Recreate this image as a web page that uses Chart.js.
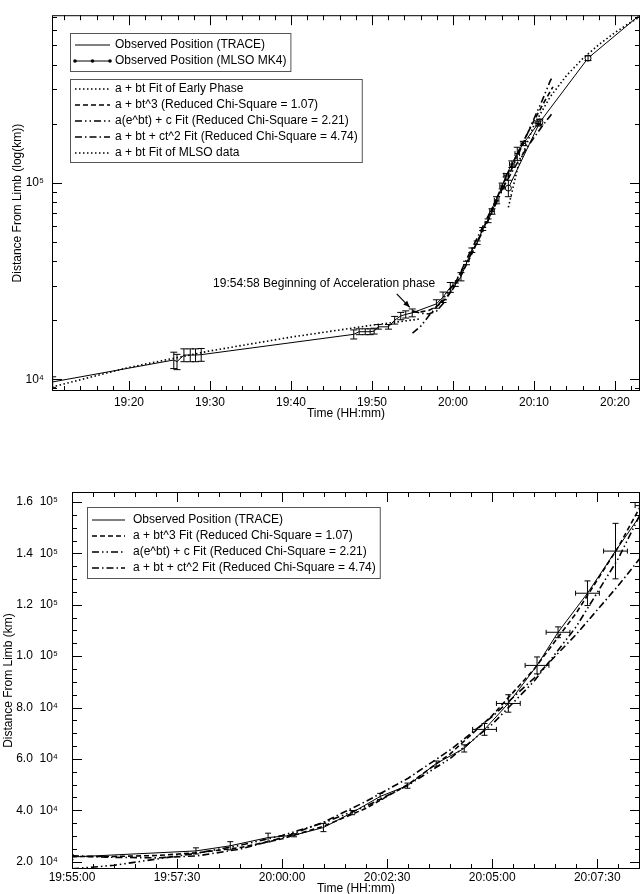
<!DOCTYPE html>
<html>
<head>
<meta charset="utf-8">
<script src="https://cdn.jsdelivr.net/npm/chart.js@4.4.0/dist/chart.umd.min.js"></script>
<style>
  html, body { margin: 0; padding: 0; background: #fff; overflow: hidden; }
  canvas { display: block; }
</style>
</head>
<body>
<canvas id="topChart" width="641" height="445"></canvas>
<canvas id="bottomChart" width="641" height="455"></canvas>
<script>
// TRACE leading edge positions
const trace_times =
[
  "19:10:35", "19:25:32", "19:25:56", "19:26:47", "19:27:34", "19:28:13", "19:28:55",
  "19:47:45", "19:48:25", "19:49:10", "19:49:46", "19:50:16", "19:50:47", "19:52:02",
  "19:52:48", "19:53:33", "19:54:10", "19:54:58", "19:57:57", "19:58:46", "19:59:40",
  "20:00:17", "20:00:59", "20:01:40", "20:02:20", "20:02:59", "20:03:40", "20:04:20",
  "20:04:49", "20:05:23", "20:06:04", "20:06:34", "20:07:16", "20:07:56", "20:08:41",
  "20:10:32"
]
const trace_km =
[
  9700, 12540, 12300, 13290, 13290, 13290, 13350,
  16940, 17470, 17470, 17470, 17600, 18500, 18500,
  20000, 21000, 21400, 21800, 24200, 26200, 29400,
  30300, 33300, 39100, 45400, 49600, 58200, 64100,
  71500, 81600, 96400, 109300, 124500, 140900, 158600,
  200500
]
const trace_err_km =
[
  600, 1200, 1100, 1000, 1000, 1000, 1000,
  900, 600, 600, 600, 600, 500, 500,
  900, 900, 900, 1000, 1200, 1600, 1700,
  600, 1600, 800, 1200, 1000, 1000, 1400,
  2300, 3400, 3300, 2100, 4800, 10800, 4000,
  6000
]
const trace_err_s =
[
  0, 0, 0, 0, 0, 0, 0,
  0, 0, 0, 0, 0, 0, 0,
  0, 0, 0, 0, 0, 0, 0,
  0, 0, 0, 0, 0, 0, 0,
  17, 17, 17, 17, 17, 17, 17,
  17
]

// MLSO MK4 positions
const mlso_times = ["20:06:50", "20:10:44", "20:16:40", "20:23:30"]
const mlso_km = [94000, 204000, 431000, 740000]
const mlso_err_km = [9000, 7000, 12000, 0]

// fits
const early_fit_times = ["19:10:00", "19:20:00", "19:30:00", "19:40:00", "19:50:00", "19:56:00"]
const early_fit_km = [9030, 11500, 13950, 16400, 18850, 20300]

const accel_fit_times =
[
  "19:55:00", "19:56:00", "19:57:00", "19:58:00", "19:59:00", "20:00:00", "20:01:00",
  "20:02:00", "20:03:00", "20:04:00", "20:05:00", "20:06:00", "20:07:00", "20:08:00",
  "20:09:00", "20:10:00", "20:11:00", "20:12:00", "20:12:20"
]
const cubic_fit_km =
[
  22000, 22050, 22400, 23500, 25500, 28900, 33900,
  40800, 50100, 62000, 76900, 95000, 116800, 142500,
  172500, 207000, 247000, 291500, 307500
]
const exp_fit_km =
[
  17200, 18600, 21000, 23400, 26400, 30200, 35200,
  41600, 49800, 60200, 73500, 90300, 111500, 138000,
  171000, 212000, 262000, 330000, 350000
]
const quad_fit_km =
[
  22300, 21700, 21500, 22300, 24900, 29300, 35500,
  43500, 52500, 63500, 76500, 91500, 108500, 127500,
  148000, 170000, 194000, 219000, 228000
]

const mlso_fit_times =
[
  "20:06:50", "20:08:00", "20:10:00", "20:12:00", "20:14:00",
  "20:16:00", "20:18:00", "20:20:00", "20:22:00", "20:24:00"
]
const mlso_fit_km = [75000, 120000, 197000, 274000, 351000, 428000, 505000, 582000, 659000, 736000]

// axes
const top_x_ticks = ["19:20", "19:30", "19:40", "19:50", "20:00", "20:10", "20:20"]
const top_y_ticks = [10000, 100000]
const top_x_range = ["19:10:30", "20:23:05"]
const top_y_range = [8720, 713000]

const bottom_x_ticks = ["19:55:00", "19:57:30", "20:00:00", "20:02:30", "20:05:00", "20:07:30"]
const bottom_y_ticks = [20000, 40000, 60000, 80000, 100000, 120000, 140000, 160000]
const bottom_x_range = ["19:55:00", "20:08:31"]
const bottom_y_range = [17160, 163900]

const note_time = "19:54:58"
const note_km = 21800
const note_text = "19:54:58 Beginning of Acceleration phase"

const font_family = "'Liberation Sans', Arial, Helvetica, sans-serif"
Chart.defaults.font.family = font_family
Chart.defaults.font.size = 12
Chart.defaults.color = "#000"

const dotted = [1.5, 2.5]
const dashed = [5, 3]
const dash_dot_dot = [7, 3, 1.5, 3, 1.5, 3]
const dash_dot = [7, 3, 1.5, 3]

const superscript_digits = "⁰¹²³⁴⁵⁶⁷⁸⁹"

function to_seconds(text)
{
  const parts = text.split(":").map(Number)
  return parts[0] * 3600 + parts[1] * 60 + (parts[2] || 0)
}

function to_points(times, values)
{
  return times.map((t, i) => ({ x: to_seconds(t), y: values[i] }))
}

function power_label(value)
{
  const exponent = Math.round(Math.log10(value))
  return "10" + String(exponent).split("").map(d => superscript_digits[Number(d)]).join("")
}

function mantissa_label(value)
{
  const exponent = Math.floor(Math.log10(value) + 1e-9)
  const mantissa = value / Math.pow(10, exponent)
  return mantissa.toFixed(1) + "  " + power_label(Math.pow(10, exponent))
}

function line_set(label, times, values, dash, width)
{
  return {
    label: label,
    data: to_points(times, values),
    borderColor: "#000",
    borderWidth: width,
    borderDash: dash,
    pointRadius: 0,
    fill: false
  }
}

function linear_minors(min, max, step)
{
  const values = []
  for (let v = Math.ceil(min / step) * step; v <= max; v += step)
  {
    values.push(v)
  }
  return values
}

function log_minors(min, max)
{
  const values = []
  for (let e = Math.floor(Math.log10(min)); e <= Math.ceil(Math.log10(max)); e++)
  {
    for (let m = 2; m <= 9; m++)
    {
      const v = m * Math.pow(10, e)
      if (v >= min && v <= max) values.push(v)
    }
  }
  return values
}

function draw_error_bars(chart, cap)
{
  const ctx = chart.ctx
  const area = chart.chartArea
  const x_scale = chart.scales.x
  const y_scale = chart.scales.y
  ctx.save()
  ctx.beginPath()
  ctx.rect(area.left, area.top, area.right - area.left, area.bottom - area.top)
  ctx.clip()
  ctx.strokeStyle = "#000"
  ctx.lineWidth = 1
  ctx.setLineDash([])
  chart.data.datasets.forEach(ds =>
  {
    if (!ds.error_km) return
    ds.data.forEach((p, j) =>
    {
      const px = x_scale.getPixelForValue(p.x)
      const py = y_scale.getPixelForValue(p.y)
      const dy = ds.error_km[j]
      ctx.beginPath()
      if (dy > 0)
      {
        const y0 = y_scale.getPixelForValue(p.y - dy)
        const y1 = y_scale.getPixelForValue(p.y + dy)
        ctx.moveTo(px, y0)
        ctx.lineTo(px, y1)
        ctx.moveTo(px - cap, y0)
        ctx.lineTo(px + cap, y0)
        ctx.moveTo(px - cap, y1)
        ctx.lineTo(px + cap, y1)
      }
      const dx = ds.error_s ? ds.error_s[j] : 0
      if (dx > 0)
      {
        const x0 = x_scale.getPixelForValue(p.x - dx)
        const x1 = x_scale.getPixelForValue(p.x + dx)
        ctx.moveTo(x0, py)
        ctx.lineTo(x1, py)
        ctx.moveTo(x0, py - 2.5)
        ctx.lineTo(x0, py + 2.5)
        ctx.moveTo(x1, py - 2.5)
        ctx.lineTo(x1, py + 2.5)
      }
      ctx.stroke()
    })
  })
  ctx.restore()
}

function draw_frame_and_ticks(chart, cfg)
{
  const ctx = chart.ctx
  const area = chart.chartArea
  const x_scale = chart.scales.x
  const y_scale = chart.scales.y
  ctx.save()
  ctx.strokeStyle = "#000"
  ctx.lineWidth = 1
  ctx.setLineDash([])
  ctx.strokeRect(area.left + 0.5, area.top + 0.5, area.right - area.left - 1, area.bottom - area.top - 1)

  ctx.beginPath()
  const tick_x = (value, length) =>
  {
    const px = Math.round(x_scale.getPixelForValue(value)) + 0.5
    ctx.moveTo(px, area.bottom)
    ctx.lineTo(px, area.bottom - length)
    ctx.moveTo(px, area.top)
    ctx.lineTo(px, area.top + length)
  }
  const tick_y = (value, length) =>
  {
    const py = Math.round(y_scale.getPixelForValue(value)) + 0.5
    ctx.moveTo(area.left, py)
    ctx.lineTo(area.left + length, py)
    ctx.moveTo(area.right, py)
    ctx.lineTo(area.right - length, py)
  }
  cfg.x_minor(x_scale.min, x_scale.max).forEach(v => tick_x(v, cfg.minor_len))
  cfg.x_major.forEach(v => tick_x(v, cfg.major_len))
  cfg.y_minor(y_scale.min, y_scale.max).forEach(v => tick_y(v, cfg.minor_len))
  cfg.y_major.forEach(v => tick_y(v, cfg.major_len))
  ctx.stroke()
  ctx.restore()
}

function draw_legend_boxes(chart, boxes)
{
  const ctx = chart.ctx
  ctx.save()
  ctx.font = "12px " + font_family
  ctx.textBaseline = "middle"
  ctx.textAlign = "left"
  boxes.forEach(box =>
  {
    const labels = box.datasets.map(i => chart.data.datasets[i].label)
    const widest = Math.max(...labels.map(t => ctx.measureText(t).width))
    const right = box.text_x + widest + 4
    ctx.fillStyle = "#fff"
    ctx.fillRect(box.left, box.top, right - box.left, box.bottom - box.top)
    ctx.strokeStyle = "#555"
    ctx.lineWidth = 1
    ctx.setLineDash([])
    ctx.strokeRect(box.left + 0.5, box.top + 0.5, right - box.left, box.bottom - box.top)

    box.datasets.forEach((index, k) =>
    {
      const ds = chart.data.datasets[index]
      const row_y = box.first_row + k * box.row_gap
      ctx.strokeStyle = "#000"
      ctx.lineWidth = ds.borderWidth
      ctx.setLineDash(ds.borderDash || [])
      ctx.beginPath()
      ctx.moveTo(box.sample_x0, row_y)
      ctx.lineTo(box.sample_x1, row_y)
      ctx.stroke()
      ctx.setLineDash([])
      if (ds.pointRadius > 0)
      {
        ctx.fillStyle = "#000"
        const mid = (box.sample_x0 + box.sample_x1) / 2
        ;[box.sample_x0, mid, box.sample_x1].forEach(px =>
        {
          ctx.beginPath()
          ctx.arc(px, row_y, 1.8, 0, Math.PI * 2)
          ctx.fill()
        })
      }
      ctx.fillStyle = "#000"
      ctx.fillText(ds.label, box.text_x, row_y)
    })
  })
  ctx.restore()
}

function draw_note(chart)
{
  const ctx = chart.ctx
  const px = chart.scales.x.getPixelForValue(to_seconds(note_time))
  const py = chart.scales.y.getPixelForValue(note_km)
  ctx.save()
  ctx.font = "12px " + font_family
  ctx.fillStyle = "#000"
  ctx.textAlign = "right"
  ctx.textBaseline = "middle"
  ctx.fillText(note_text, px + 23, py - 29)

  const x0 = px - 15.5
  const y0 = py - 19
  const x1 = px - 2.5
  const y1 = py - 5.5
  const angle = Math.atan2(y1 - y0, x1 - x0)
  ctx.strokeStyle = "#000"
  ctx.lineWidth = 1.2
  ctx.beginPath()
  ctx.moveTo(x0, y0)
  ctx.lineTo(x1, y1)
  ctx.stroke()
  ctx.beginPath()
  ctx.moveTo(x1, y1)
  ctx.lineTo(x1 - 7 * Math.cos(angle - 0.4), y1 - 7 * Math.sin(angle - 0.4))
  ctx.lineTo(x1 - 7 * Math.cos(angle + 0.4), y1 - 7 * Math.sin(angle + 0.4))
  ctx.closePath()
  ctx.fill()
  ctx.restore()
}

function make_decor_plugin(cfg)
{
  return {
    id: "decor_" + cfg.name,
    afterDatasetsDraw(chart)
    {
      draw_error_bars(chart, cfg.cap)
    },
    afterDraw(chart)
    {
      draw_frame_and_ticks(chart, cfg)
      draw_legend_boxes(chart, cfg.legend_boxes)
      if (cfg.note) draw_note(chart)
    }
  }
}

function make_scales(cfg)
{
  return {
    x:
    {
      type: "linear",
      min: to_seconds(cfg.x_range[0]),
      max: to_seconds(cfg.x_range[1]),
      afterBuildTicks: (scale) => { scale.ticks = cfg.x_ticks.map(t => ({ value: to_seconds(t) })) },
      afterFit: (scale) => { scale.height = cfg.x_height },
      grid: { display: false, drawTicks: false },
      border: { display: false },
      ticks:
      {
        autoSkip: false,
        maxRotation: 0,
        padding: cfg.x_pad,
        callback: (value, index) => cfg.x_ticks[index]
      },
      title: { display: true, text: "Time (HH:mm)", padding: { top: 0, bottom: cfg.x_title_pad } }
    },
    y:
    {
      type: cfg.y_type,
      min: cfg.y_range[0],
      max: cfg.y_range[1],
      afterBuildTicks: (scale) => { scale.ticks = cfg.y_ticks.map(v => ({ value: v })) },
      afterFit: (scale) => { scale.width = cfg.y_width },
      grid: { display: false, drawTicks: false },
      border: { display: false },
      ticks:
      {
        autoSkip: false,
        padding: cfg.y_pad,
        callback: (value) => cfg.y_label(value)
      },
      title: { display: true, text: cfg.y_title, padding: { top: cfg.y_title_pad, bottom: 0 } }
    }
  }
}

// top panel: log distance over the whole event
const top_trace = line_set("Observed Position (TRACE)", trace_times, trace_km, [], 1)
top_trace.error_km = trace_err_km
top_trace.error_s = trace_err_s

const top_mlso = line_set("Observed Position (MLSO MK4)", mlso_times, mlso_km, [], 1)
top_mlso.pointRadius = 3
top_mlso.pointBackgroundColor = "#fff"
top_mlso.pointBorderColor = "#000"
top_mlso.pointBorderWidth = 1
top_mlso.error_km = mlso_err_km

const top_chart = new Chart(document.getElementById("topChart").getContext("2d"),
{
  type: "line",
  data:
  {
    datasets:
    [
      top_trace,
      top_mlso,
      line_set("a + bt Fit of Early Phase", early_fit_times, early_fit_km, dotted, 1.6),
      line_set("a + bt^3 (Reduced Chi-Square = 1.07)", accel_fit_times, cubic_fit_km, dashed, 1.6),
      line_set("a(e^bt) + c Fit (Reduced Chi-Square = 2.21)", accel_fit_times, exp_fit_km, dash_dot_dot, 1.6),
      line_set("a + bt + ct^2 Fit (Reduced Chi-Square = 4.74)", accel_fit_times, quad_fit_km, dash_dot, 1.6),
      line_set("a + bt Fit of MLSO data", mlso_fit_times, mlso_fit_km, dotted, 1.6)
    ]
  },
  options:
  {
    responsive: false,
    animation: false,
    devicePixelRatio: 1,
    layout: { autoPadding: false, padding: { left: 0, right: 1, top: 15, bottom: 0 } },
    plugins: { legend: { display: false }, tooltip: { enabled: false } },
    scales: make_scales(
    {
      x_range: top_x_range,
      x_ticks: top_x_ticks,
      x_height: 54,
      x_pad: 4,
      x_title_pad: 24,
      y_type: "logarithmic",
      y_range: top_y_range,
      y_ticks: top_y_ticks,
      y_width: 52,
      y_pad: 8,
      y_label: power_label,
      y_title: "Distance From Limb (log(km))",
      y_title_pad: 10
    })
  },
  plugins:
  [
    make_decor_plugin(
    {
      name: "top",
      cap: 3.5,
      x_major: top_x_ticks.map(to_seconds),
      x_minor: (min, max) => linear_minors(min, max, 120),
      y_major: top_y_ticks,
      y_minor: log_minors,
      major_len: 10,
      minor_len: 5,
      note: true,
      legend_boxes:
      [
        { datasets: [0, 1], left: 70, top: 33, bottom: 71, first_row: 45, row_gap: 16, sample_x0: 75, sample_x1: 110, text_x: 115 },
        { datasets: [2, 3, 4, 5, 6], left: 70, top: 79, bottom: 162, first_row: 89, row_gap: 16, sample_x0: 75, sample_x1: 110, text_x: 115 }
      ]
    })
  ]
})

// bottom panel: linear distance during the acceleration phase
const bottom_trace = line_set("Observed Position (TRACE)", trace_times, trace_km, [], 1)
bottom_trace.error_km = trace_err_km
bottom_trace.error_s = trace_err_s

const bottom_chart = new Chart(document.getElementById("bottomChart").getContext("2d"),
{
  type: "line",
  data:
  {
    datasets:
    [
      bottom_trace,
      line_set("a + bt^3 Fit (Reduced Chi-Square = 1.07)", accel_fit_times, cubic_fit_km, dashed, 1.6),
      line_set("a(e^bt) + c Fit (Reduced Chi-Square = 2.21)", accel_fit_times, exp_fit_km, dash_dot_dot, 1.6),
      line_set("a + bt + ct^2 Fit (Reduced Chi-Square = 4.74)", accel_fit_times, quad_fit_km, dash_dot, 1.6)
    ]
  },
  options:
  {
    responsive: false,
    animation: false,
    devicePixelRatio: 1,
    layout: { autoPadding: false, padding: { left: 0, right: 1, top: 47, bottom: 0 } },
    plugins: { legend: { display: false }, tooltip: { enabled: false } },
    scales: make_scales(
    {
      x_range: bottom_x_range,
      x_ticks: bottom_x_ticks,
      x_height: 31,
      x_pad: 1,
      x_title_pad: 4,
      y_type: "linear",
      y_range: bottom_y_range,
      y_ticks: bottom_y_ticks,
      y_width: 72,
      y_pad: 14,
      y_label: mantissa_label,
      y_title: "Distance From Limb (km)",
      y_title_pad: 1
    })
  },
  plugins:
  [
    make_decor_plugin(
    {
      name: "bottom",
      cap: 3,
      x_major: bottom_x_ticks.map(to_seconds),
      x_minor: (min, max) => linear_minors(min, max, 30),
      y_major: bottom_y_ticks,
      y_minor: (min, max) => linear_minors(min, max, 5000),
      major_len: 10,
      minor_len: 5,
      note: false,
      legend_boxes:
      [
        { datasets: [0, 1, 2, 3], left: 87, top: 62, bottom: 133, first_row: 75, row_gap: 16, sample_x0: 92, sample_x1: 125, text_x: 133 }
      ]
    })
  ]
})
</script>
</body>
</html>
